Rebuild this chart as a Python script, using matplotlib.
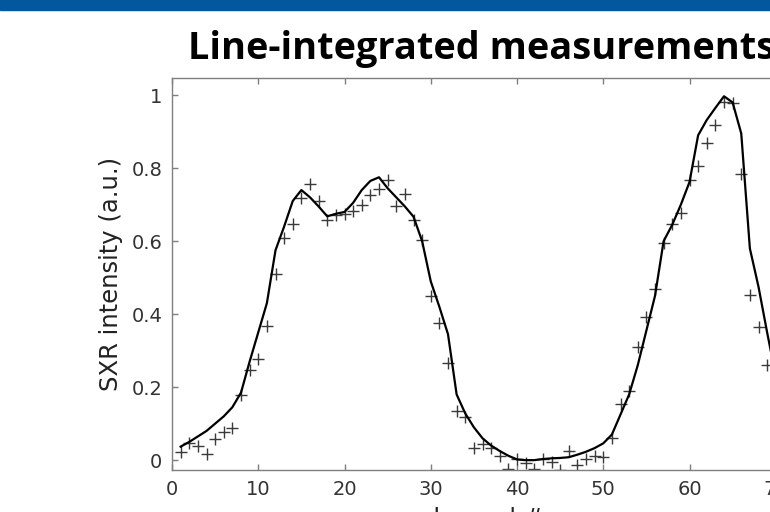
import numpy as np
import matplotlib.pyplot as plt
from matplotlib.patches import Rectangle

# Channel numbers and line-integrated SXR data
channels = np.arange(1, 70)
measured = [0.023, 0.046, 0.039, 0.018, 0.057, 0.078, 0.088, 0.178, 0.248, 0.276,
            0.367, 0.509, 0.609, 0.648, 0.719, 0.756, 0.710, 0.659, 0.671, 0.674,
            0.682, 0.698, 0.726, 0.744, 0.767, 0.696, 0.728, 0.658, 0.603, 0.449,
            0.376, 0.267, 0.135, 0.119, 0.034, 0.043, 0.032, 0.011, -0.023, 0.002,
            -0.007, -0.023, 0.002, -0.005, -0.027, 0.026, -0.014, 0.003, 0.011, 0.009,
            0.062, 0.153, 0.190, 0.310, 0.393, 0.470, 0.596, 0.648, 0.678, 0.767,
            0.805, 0.868, 0.918, 0.982, 0.978, 0.785, 0.452, 0.364, 0.260]

line_channels = np.arange(1, 71)
reconstructed = [0.037, 0.050, 0.065, 0.080, 0.100, 0.120, 0.145, 0.185, 0.270, 0.350,
                 0.430, 0.575, 0.640, 0.710, 0.740, 0.720, 0.695, 0.668, 0.675, 0.680,
                 0.705, 0.740, 0.765, 0.775, 0.745, 0.720, 0.695, 0.667, 0.600, 0.490,
                 0.420, 0.345, 0.180, 0.128, 0.090, 0.060, 0.040, 0.025, 0.012, 0.002,
                 0.000, 0.000, 0.003, 0.005, 0.006, 0.008, 0.015, 0.023, 0.033, 0.046,
                 0.070, 0.125, 0.180, 0.260, 0.355, 0.450, 0.600, 0.645, 0.700, 0.762,
                 0.890, 0.932, 0.965, 0.997, 0.980, 0.895, 0.580, 0.475, 0.350, 0.230]

xticks = [0, 10, 20, 30, 40, 50, 60, 70]
yticks = [0, 0.2, 0.4, 0.6, 0.8, 1]
ytick_labels = ['0', '0.2', '0.4', '0.6', '0.8', '1']

fig = plt.figure(figsize=(7.7, 5.12), dpi=100)

# blue banner at top of the slide
fig.patches.append(Rectangle((0, 1 - 10 / 512), 1, 10 / 512, transform=fig.transFigure,
                             color='#02579e', zorder=0))

# axes deliberately runs past the right edge (the slide crops it)
ax = fig.add_axes([172 / 770, 42 / 512, 621 / 770, 392 / 512])
ax.plot(line_channels, reconstructed, color='black', lw=1.6, zorder=3)
ax.plot(channels, measured, '+', color='#3a3a3a', ms=8, mew=1.0, zorder=2)

ax.set_xlim(0, 72)
ax.set_ylim(-0.027, 1.047)
ax.set_xticks(xticks)
ax.set_yticks(yticks)
ax.set_yticklabels(ytick_labels)
ax.tick_params(direction='in', length=4, width=1, color='#7f7f7f', top=True, right=True,
               labelsize=14, labelcolor='#333333', pad=7)
for s in ax.spines.values():
    s.set_color('#7f7f7f')
    s.set_linewidth(1)

ax.set_ylabel('SXR intensity (a.u.)', fontsize=17.5, color='#222222', labelpad=6)
ax.set_xlabel('channel #', fontsize=17.5, color='#222222', labelpad=6)

fig.text(188 / 770, 1 - 59 / 512, 'Line-integrated measurements', ha='left', va='baseline',
         fontsize=27.3, fontweight='bold', family='Open Sans', color='black')

fig.savefig('out.png', dpi=100)
